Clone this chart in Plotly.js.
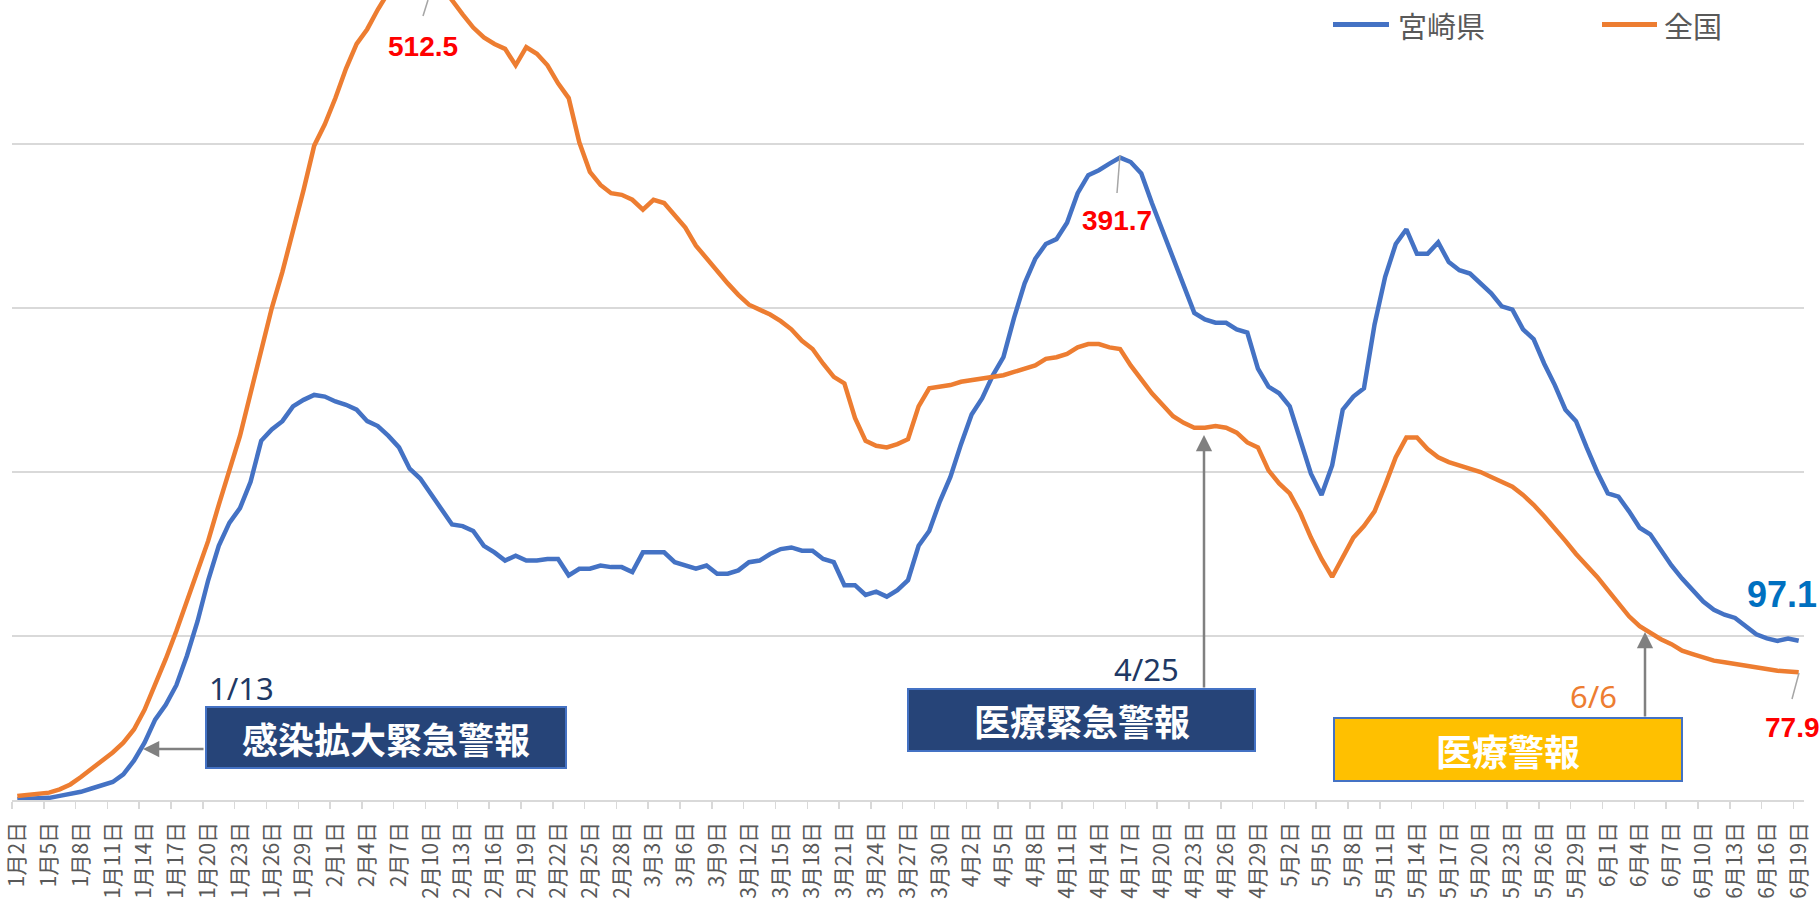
<!DOCTYPE html>
<html><head><meta charset="utf-8">
<script src="https://cdn.plot.ly/plotly-3.0.1.min.js"></script>
<style>html,body{margin:0;padding:0;background:#fff;} #chart{width:1820px;height:902px;}</style>
</head><body><div id="chart"></div>
<script>
// ---- data ----
const monthSpans = [[1,2,31],[2,1,28],[3,1,31],[4,1,30],[5,1,31],[6,1,19]];
const dates = [];
monthSpans.forEach(([m,s,e]) => { for (let d = s; d <= e; d++) dates.push(m + '月' + d + '日'); });

const seriesNames = ['宮崎県', '全国'];

const miyazaki = [
  0.5,0.7,1,1.3,2.5,3.5,5,7,9,11,15.6,24,35,49,58,70,88,109,134,155,169,178,194,219,226,231,240,244,247,246,
  243,241,238,231,228,222,215,202,196,187,178,168,167,164,155,151,146,149,146,146,147,147,137,141,141,143,142,142,
  139,151,151,151,145,143,141,143,138,138,140,145,146,150,153,154,152,152,147,145,131,131,125,127,124,128,134,155,164,182,197,
  217,235,245,259,270,294,315,330,339,342,352,370,381,384,388,391.7,389,382,364,347,331,313,297,293,291,291,287,285,263,252,
  248,240,219,199,186,204,238,246,251,290,319,339,348,333,333,340,328,323,321,315,309,301,299,287,281,266,253,238,231,215,200,
  187,185,176,166,162,152,143,135,128,121,116,113,111,106,101,98.5,97,98.5,97.1
];

const zenkoku = [
  2.5,3,3.5,4.5,6.5,9.5,14,19,24,29,35,43,55,70,86,103,121,140,158,180,201,222,248,275,300,322,346,372,399,412,
  428,446,461,470,482,493,503,510,512.5,505,496,488,479,471,465,461,458,448,459,455,448,437,428,401,383,375,370,369,
  366,360,366,364,357,349,338,330,322,315,308,302,299,296,292,287,280,275,266,258,254,233,219,216,215,217,220,240,251,252,253,
  255,256,257,258,259,261,263,265,269,270,272,276,278,278,276,275,265,256,248,241,234,230,227,227,228,227,224,218,215,201,
  193,187,175,160,147,136,148,160,167,176,192,209,221,221,214,209,206,204,202,200,197,194,191,186,180,173,166,158,150,143,136,
  128,120,112,106,102,98,95,91,89,87,85,84,83,81.5,80.5,79.5,78.8,78.3,77.9
];

const alertNames = ['感染拡大緊急警報', '医療緊急警報', '医療警報'];
const alertDates = ['1/13', '4/25', '6/6'];

// ---- layout helpers (pixel -> paper) ----
const L = 12, R = 16, T = 0, B = 102, FW = 1820, FH = 902;
const PW = FW - L - R, PH = FH - T - B;
const px = x => (x - L) / PW;
const py = y => (T + PH - y) / PH;

const BLUE = '#4472C4', ORANGE = '#ED7D31';
const CJK = '"Noto Sans CJK JP", "Noto Sans", sans-serif';
const NUM = '"Liberation Sans", Arial, sans-serif';

const maxZ = Math.max(...zenkoku);
const maxM = Math.max(...miyazaki);
const lastM = miyazaki[miyazaki.length - 1];
const lastZ = zenkoku[zenkoku.length - 1];

const traces = [
  {x: dates, y: miyazaki, name: seriesNames[0], type: 'scatter', mode: 'lines',
   line: {color: BLUE, width: 4.5}},
  {x: dates, y: zenkoku, name: seriesNames[1], type: 'scatter', mode: 'lines',
   line: {color: ORANGE, width: 4.5}}
];

function pline(x0, y0, x1, y1, color, width) {
  return {type: 'line', xref: 'paper', yref: 'paper', x0: px(x0), y0: py(y0), x1: px(x1), y1: py(y1),
          line: {color: color, width: width}, layer: 'above'};
}
function prect(x0, y0, x1, y1, fill) {
  return {type: 'rect', xref: 'paper', yref: 'paper', x0: px(x0), y0: py(y0), x1: px(x1), y1: py(y1),
          fillcolor: fill, line: {color: BLUE, width: 2}, layer: 'above'};
}
function ptext(text, x, y, font, anchor) {
  return {text: text, xref: 'paper', yref: 'paper', x: px(x), y: py(y), showarrow: false,
          xanchor: anchor || 'center', yanchor: 'middle', font: font};
}
function parrow(tx, ty, sx, sy) {
  return {text: '', xref: 'paper', yref: 'paper', x: px(tx), y: py(ty), ax: sx - tx, ay: sy - ty,
          showarrow: true, arrowhead: 2, arrowsize: 1.3, arrowwidth: 2.5, arrowcolor: '#808080', standoff: 0};
}

const shapes = [
  // leader lines for value labels
  pline(428, 0, 423, 16, '#A6A6A6', 1.5),
  pline(1120, 155, 1117, 193, '#A6A6A6', 1.5),
  pline(1799, 673, 1792, 699, '#A6A6A6', 1.5),
  // alert boxes
  prect(206, 707, 566, 768, '#264478'),
  prect(908, 689, 1255, 751, '#264478'),
  prect(1334, 718, 1682, 781, '#FFC000'),
  // legend lines
  pline(1333, 24.5, 1389, 24.5, BLUE, 5),
  pline(1602, 24.5, 1657, 24.5, ORANGE, 5)
];

const redFont = {family: NUM, size: 28, color: '#FF0000'};
const annotations = [
  ptext('<b>' + maxZ.toFixed(1) + '</b>', 423, 46, redFont),
  ptext('<b>' + maxM.toFixed(1) + '</b>', 1117, 220, redFont),
  ptext('<b>' + lastM.toFixed(1) + '</b>', 1782, 594, {family: NUM, size: 36, color: '#0070C0'}),
  ptext('<b>' + lastZ.toFixed(1) + '</b>', 1792, 727, redFont),
  // alert boxes text
  ptext('<b>' + alertNames[0] + '</b>', 386, 737.5, {family: CJK, size: 36, color: '#FFFFFF'}),
  ptext('<b>' + alertNames[1] + '</b>', 1081.5, 720, {family: CJK, size: 36, color: '#FFFFFF'}),
  ptext('<b>' + alertNames[2] + '</b>', 1508, 749.5, {family: CJK, size: 36, color: '#FFFFFF'}),
  // alert dates
  ptext(alertDates[0], 241, 688, {family: '"Noto Sans", sans-serif', size: 31, color: '#203864'}),
  ptext(alertDates[1], 1146, 669, {family: '"Noto Sans", sans-serif', size: 31, color: '#203864'}),
  ptext(alertDates[2], 1593, 696, {family: '"Noto Sans", sans-serif', size: 31, color: ORANGE}),
  // arrows
  parrow(143, 749, 205, 749),
  parrow(1204, 435, 1204, 689),
  parrow(1645, 632, 1645, 718),
  // legend text
  ptext(seriesNames[0], 1396, 25, {family: CJK, size: 29, color: '#595959'}, 'left'),
  ptext(seriesNames[1], 1662, 25, {family: CJK, size: 29, color: '#595959'}, 'left')
];

const layout = {
  width: FW, height: FH,
  margin: {l: L, r: R, t: T, b: B, pad: 0},
  paper_bgcolor: '#FFFFFF', plot_bgcolor: '#FFFFFF',
  showlegend: false,
  xaxis: {
    type: 'category', range: [-0.5, dates.length - 0.5],
    showgrid: false, zeroline: false,
    showline: true, linecolor: '#D9D9D9', linewidth: 1.5,
    ticks: 'outside', ticklen: 7, tickcolor: '#D9D9D9', tickwidth: 1.5,
    tickson: 'boundaries',
    tickmode: 'linear', tick0: 0, dtick: 3,
    tickangle: -90,
    ticklabelstandoff: 12,
    tickfont: {family: CJK, size: 21, color: '#595959'}
  },
  yaxis: {
    range: [0, 487.8], tickmode: 'linear', tick0: 0, dtick: 100,
    showticklabels: false, ticks: '',
    showgrid: true, gridcolor: '#D9D9D9', gridwidth: 1.5,
    zeroline: false, showline: false
  },
  shapes: shapes,
  annotations: annotations
};

Plotly.newPlot('chart', traces, layout, {staticPlot: true, displayModeBar: false});
</script>
</body></html>
